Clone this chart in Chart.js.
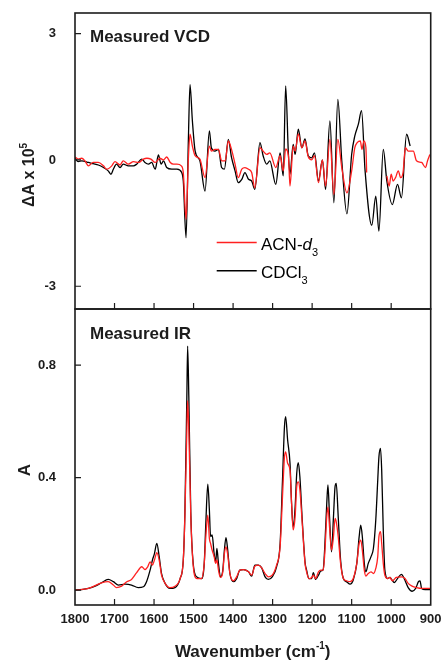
<!DOCTYPE html>
<html>
<head>
<meta charset="utf-8">
<script src="https://cdn.jsdelivr.net/npm/chart.js@4.4.0/dist/chart.umd.min.js"></script>
<style>
  html, body { margin: 0; padding: 0; background: #fff; }
  #wrap { position: relative; width: 443px; height: 662px; }
  #vcd { position: absolute; left: 0; top: 0; }
  #ir { position: absolute; left: 0; top: 300px; }
</style>
</head>
<body>
<div id="wrap">
  <canvas id="vcd" width="443" height="310"></canvas>
  <canvas id="ir" width="443" height="362"></canvas>
</div>
<script>
// ---- data (wavenumber in cm-1) ----
const wnTicks = [1800, 1700, 1600, 1500, 1400, 1300, 1200, 1100, 1000, 900];
const vcdTicks = [-3, 0, 3];
const irTicks = [0, 0.4, 0.8];

// VCD, CDCl3 (x 10^5)
const vcdCdclWn = [1800,1792,1783,1766,1754,1741,1728,1716,1709,1703,
  1695,1686,1678,1665,1652,1644,1631,1623,1614,1606,
  1597,1589,1582,1576,1568,1555,1542,1530,1526,1519,
  1513,1509,1503,1496,1484,1471,1460,1455,1446,1437,
  1429,1422,1412,1404,1395,1387,1378,1370,1361,1353,
  1345,1332,1324,1315,1307,1292,1281,1273,1267,1260,
  1256,1248,1243,1235,1226,1218,1210,1201,1194,1184,
  1174,1166,1155,1145,1135,1125,1112,1100,1092,1083,
  1075,1066,1049,1039,1031,1020,1011,997,984,974,
  961,952];
const vcdCdcl = [0.04,-0.04,-0.02,-0.06,-0.09,-0.12,-0.18,-0.26,-0.34,-0.22,
  -0.10,-0.18,-0.10,-0.14,-0.14,-0.10,0.02,-0.06,-0.10,-0.06,
  -0.22,0.12,-0.10,-0.02,-0.18,-0.22,-0.22,-0.30,-0.50,-1.85,
  0.53,1.79,0.93,0.21,-0.02,-0.74,0.69,0.29,0.21,0.25,
  -0.18,-0.22,0.49,0.06,-0.26,-0.54,-0.46,-0.30,-0.46,-0.50,
  -0.70,0.41,0.10,-0.10,-0.02,-0.58,0.17,-0.38,1.76,0.13,
  -0.34,0.37,0.13,0.73,0.29,0.50,0.10,0.05,0.17,-0.50,
  0.00,-0.70,0.93,-1.02,1.44,-0.02,-1.28,0.13,0.57,0.85,
  1.17,-0.26,-1.55,-0.86,-1.69,0.25,-0.50,-1.06,-0.58,-0.90,
  0.61,0.33];

// VCD, ACN-d3 (null = region cut out)
const vcdAcnWn = [1800,1792,1783,1775,1766,1754,1741,1728,1720,1707,
  1699,1686,1678,1665,1652,1639,1627,1618,1608,1597,
  1585,1576,1568,1559,1551,1542,1531,1526,1519,1513,
  1509,1503,1496,1484,1471,1460,1455,1446,1437,1429,
  1420,1412,1404,1395,1387,1378,1370,1361,1353,1345,
  1332,1324,1315,1307,1292,1281,1273,1267,1260,1256,
  1248,1243,1235,1226,1218,1210,1201,1194,1184,1174,
  1166,1155,1145,1135,1125,1112,1100,1092,1086,1078,
  1074,1069,1064,1062,1040,1011,1005,1000,995,989,
  982,976,970,964,957,944,936,923,913,908,
  902];
const vcdAcn = [0.07,0.02,0.04,-0.02,-0.14,-0.06,-0.06,-0.14,-0.22,-0.14,
  -0.04,-0.12,-0.02,-0.10,-0.04,-0.06,0.02,0.04,0.02,-0.06,
  0.04,0.00,0.07,-0.06,-0.10,-0.10,-0.14,-0.30,-1.41,0.06,
  0.61,0.33,0.10,0.02,-0.42,0.33,0.21,0.25,0.25,-0.02,
  -0.02,0.45,0.25,-0.10,-0.42,-0.22,-0.18,-0.22,-0.30,-0.66,
  0.29,0.21,0.13,0.17,-0.18,0.10,-0.26,0.26,0.10,-0.62,
  0.33,0.21,0.62,0.29,0.45,0.08,0.00,0.10,-0.54,0.00,
  -0.62,0.49,-0.82,0.49,-0.18,-0.78,-0.26,0.29,0.41,0.45,
  0.25,0.45,0.30,-0.30,null,-0.38,-0.62,-0.34,-0.50,-0.42,
  -0.26,-0.42,-0.30,0.29,0.21,0.21,-0.02,-0.06,-0.18,-0.02,
  0.13];

// IR absorbance, CDCl3
const irCdclWn = [1800,1783,1766,1749,1733,1716,1703,1690,1673,1657,
  1640,1627,1619,1610,1604,1599,1593,1587,1581,1572,
  1560,1547,1534,1526,1522,1517,1515,1512,1507,1501,
  1492,1480,1473,1469,1464,1460,1457,1453,1448,1444,
  1441,1437,1432,1426,1422,1418,1414,1408,1399,1391,
  1383,1374,1361,1353,1345,1336,1328,1319,1311,1301,
  1290,1281,1275,1270,1267,1262,1256,1252,1248,1243,
  1239,1235,1231,1225,1218,1214,1208,1201,1197,1191,
  1184,1178,1172,1168,1163,1160,1156,1151,1146,1142,
  1139,1134,1128,1121,1113,1104,1096,1087,1081,1077,
  1073,1068,1064,1058,1051,1045,1039,1034,1031,1027,
  1024,1020,1016,1009,1003,999,992,984,974,967,
  957,947,938,931,927,923,914,900];
const irCdcl = [0.000,0.002,0.006,0.014,0.026,0.038,0.030,0.018,0.021,0.018,
  0.009,0.012,0.030,0.071,0.107,0.130,0.166,0.119,0.059,0.024,
  0.006,0.009,0.041,0.107,0.273,0.688,0.868,0.688,0.273,0.095,
  0.047,0.041,0.095,0.237,0.377,0.285,0.190,0.196,0.130,0.100,
  0.148,0.095,0.047,0.071,0.142,0.187,0.148,0.059,0.030,0.041,
  0.071,0.073,0.065,0.050,0.089,0.089,0.080,0.047,0.038,0.047,
  0.083,0.166,0.391,0.581,0.617,0.534,0.451,0.308,0.225,0.296,
  0.415,0.453,0.403,0.249,0.100,0.071,0.041,0.041,0.062,0.038,
  0.053,0.068,0.073,0.154,0.308,0.374,0.261,0.136,0.261,0.368,
  0.380,0.261,0.107,0.041,0.030,0.021,0.036,0.095,0.190,0.231,
  0.190,0.095,0.065,0.095,0.119,0.148,0.249,0.391,0.474,0.504,
  0.427,0.214,0.071,0.041,0.045,0.038,0.027,0.041,0.056,0.041,
  0.009,-0.004,0.006,0.030,0.033,0.006,0.002,0.002];

// IR absorbance, ACN-d3
const irAcnWn = [1800,1766,1733,1716,1703,1695,1682,1669,1657,1644,
  1631,1623,1616,1610,1604,1599,1593,1587,1581,1572,
  1560,1547,1534,1526,1522,1517,1515,1512,1507,1501,
  1492,1480,1473,1469,1464,1460,1457,1453,1448,1444,
  1441,1437,1432,1426,1422,1418,1414,1408,1399,1391,
  1383,1374,1361,1353,1345,1336,1328,1319,1311,1301,
  1290,1281,1275,1270,1267,1262,1256,1252,1248,1243,
  1239,1235,1231,1225,1218,1214,1208,1201,1197,1191,
  1184,1178,1172,1168,1163,1160,1156,1151,1146,1142,
  1139,1134,1128,1121,1113,1104,1096,1087,1081,1077,
  1073,1068,1064,1058,1051,1045,1039,1034,1031,1027,
  1024,1020,1016,1009,1003,997,987,974,965,957,
  947,936,923,900];
const irAcn = [0.000,0.006,0.026,0.030,0.018,0.009,0.014,0.030,0.038,0.062,
  0.083,0.073,0.083,0.100,0.089,0.107,0.133,0.107,0.053,0.024,
  0.009,0.014,0.041,0.107,0.261,0.569,0.674,0.569,0.261,0.089,
  0.041,0.041,0.095,0.190,0.267,0.184,0.166,0.142,0.119,0.095,
  0.107,0.071,0.045,0.065,0.130,0.154,0.130,0.059,0.033,0.047,
  0.071,0.073,0.065,0.053,0.085,0.089,0.080,0.059,0.047,0.053,
  0.089,0.154,0.332,0.474,0.492,0.451,0.427,0.308,0.214,0.261,
  0.368,0.385,0.356,0.237,0.095,0.065,0.041,0.045,0.053,0.041,
  0.065,0.071,0.071,0.130,0.261,0.296,0.225,0.142,0.190,0.255,
  0.243,0.190,0.095,0.041,0.033,0.030,0.041,0.095,0.166,0.178,
  0.142,0.071,0.050,0.059,0.065,0.059,0.077,0.119,0.190,0.208,
  0.166,0.095,0.053,0.041,0.045,0.033,0.045,0.047,0.041,0.024,
  0.014,0.009,0.006,0.006];

// ---- styling ----
const FONT = '"Liberation Sans", Arial, Helvetica, sans-serif';
const INK = '#1c1c1c';
const RED = '#ff2020';

const pts = (xs, ys) => xs.map((x, i) => ({ x: x, y: ys[i] }));

function line(label, data, color) {
  return {
    label: label, data: data, borderColor: color, borderWidth: 1.3,
    pointRadius: 0, cubicInterpolationMode: 'monotone', spanGaps: false, fill: false
  };
}

// draws text in pieces so sub/superscripts and italics come out right
function richText(ctx, parts, x, y, align) {
  let w = 0;
  parts.forEach(p => { ctx.font = p[1] + ' ' + FONT; w += ctx.measureText(p[0]).width; });
  let cx = align === 'center' ? x - w / 2 : x;
  parts.forEach(p => {
    ctx.font = p[1] + ' ' + FONT;
    ctx.fillText(p[0], cx, y + (p[2] || 0));
    cx += ctx.measureText(p[0]).width;
  });
}

// frame, inward ticks, panel title and axis title
function decor(cfg) {
  return {
    id: 'decor',
    afterDatasetsDraw(chart) {
      const ctx = chart.ctx, a = chart.chartArea;
      const xs = chart.scales.x, ys = chart.scales.y;
      ctx.save();
      ctx.strokeStyle = INK;
      ctx.lineWidth = 1.2;
      ctx.beginPath();
      wnTicks.slice(1, -1).forEach(v => {
        const p = xs.getPixelForValue(v);
        ctx.moveTo(p, a.bottom); ctx.lineTo(p, a.bottom - 6);
      });
      ys.ticks.forEach(t => {
        const p = ys.getPixelForValue(t.value);
        ctx.moveTo(a.left, p); ctx.lineTo(a.left + 6, p);
      });
      ctx.stroke();
      ctx.lineWidth = 1.6;
      ctx.strokeRect(a.left, a.top, a.right - a.left, a.bottom - a.top);

      ctx.fillStyle = INK;
      ctx.textAlign = 'left';
      ctx.textBaseline = 'alphabetic';
      ctx.font = 'bold 17px ' + FONT;
      ctx.fillText(cfg.title, a.left + 15, a.top + cfg.titleDy);

      ctx.save();
      ctx.translate(cfg.yTitleX, cfg.yTitleY);
      ctx.rotate(-Math.PI / 2);
      richText(ctx, cfg.yTitle, 0, 6, 'center');
      ctx.restore();

      if (cfg.extra) cfg.extra(ctx, a);
      ctx.restore();
    }
  };
}

function yAxis(min, max, ticks, fmt) {
  return {
    min: min, max: max,
    afterBuildTicks: s => { s.ticks = ticks.map(v => ({ value: v })); },
    afterFit: s => { s.width = 75; s.paddingTop = 0; s.paddingBottom = 0; },
    grid: { display: false, drawTicks: false },
    border: { display: false },
    ticks: { color: INK, padding: 19, font: { family: FONT, size: 13, weight: 'bold' }, callback: fmt }
  };
}

const common = {
  responsive: false,
  animation: false,
  events: [],
  plugins: { legend: { display: false }, tooltip: { enabled: false } }
};

// ---- top panel: VCD ----
new Chart(document.getElementById('vcd'), {
  type: 'line',
  data: { datasets: [
    line('ACN-d3', pts(vcdAcnWn, vcdAcn), RED),
    line('CDCl3', pts(vcdCdclWn, vcdCdcl), '#000')
  ]},
  options: Object.assign({}, common, {
    layout: { autoPadding: false, padding: { top: 13, right: 12.3, bottom: 1, left: 0 } },
    scales: {
      x: { type: 'linear', reverse: true, min: 900, max: 1800, display: false },
      y: yAxis(-3.54, 3.49, vcdTicks, v => String(v))
    }
  }),
  plugins: [decor({
    title: 'Measured VCD', titleDy: 29.3,
    yTitleX: 28, yTitleY: 175,
    yTitle: [['ΔA x 10', 'bold 16px'], ['5', 'bold 10px', -7]],
    extra: (ctx) => {
      ctx.lineWidth = 1.5;
      ctx.strokeStyle = RED;
      ctx.beginPath(); ctx.moveTo(216.7, 242.5); ctx.lineTo(256.7, 242.5); ctx.stroke();
      ctx.strokeStyle = '#000';
      ctx.beginPath(); ctx.moveTo(216.7, 270.7); ctx.lineTo(256.7, 270.7); ctx.stroke();
      ctx.fillStyle = '#000';
      richText(ctx, [['ACN-', '17px'], ['d', 'italic 17px'], ['3', '11px', 6]], 261, 250, 'left');
      richText(ctx, [['CDCl', '17px'], ['3', '11px', 6]], 261, 278.3, 'left');
    }
  })]
});

// ---- bottom panel: IR ----
new Chart(document.getElementById('ir'), {
  type: 'line',
  data: { datasets: [
    line('ACN-d3', pts(irAcnWn, irAcn), RED),
    line('CDCl3', pts(irCdclWn, irCdcl), '#000')
  ]},
  options: Object.assign({}, common, {
    layout: { autoPadding: false, padding: { top: 9, right: 12.3, bottom: 0, left: 0 } },
    scales: {
      x: {
        type: 'linear', reverse: true, min: 900, max: 1800,
        afterBuildTicks: s => { s.ticks = wnTicks.map(v => ({ value: v })); },
        afterFit: s => { s.height = 57; s.paddingLeft = 0; s.paddingRight = 0; },
        grid: { display: false, drawTicks: false },
        border: { display: false },
        ticks: { color: INK, padding: 7, maxRotation: 0, autoSkip: false,
                 font: { family: FONT, size: 13, weight: 'bold' }, callback: v => String(v) }
      },
      y: yAxis(-0.053, 1.0, irTicks, v => v.toFixed(1))
    }
  }),
  plugins: [decor({
    title: 'Measured IR', titleDy: 30.3,
    yTitleX: 23.5, yTitleY: 170,
    yTitle: [['A', 'bold 17px']],
    extra: (ctx) => {
      ctx.fillStyle = INK;
      richText(ctx, [['Wavenumber (cm', 'bold 17px'], ['-1', 'bold 10px', -8], [')', 'bold 17px']], 252.7, 356.5, 'center');
    }
  })]
});
</script>
</body>
</html>
